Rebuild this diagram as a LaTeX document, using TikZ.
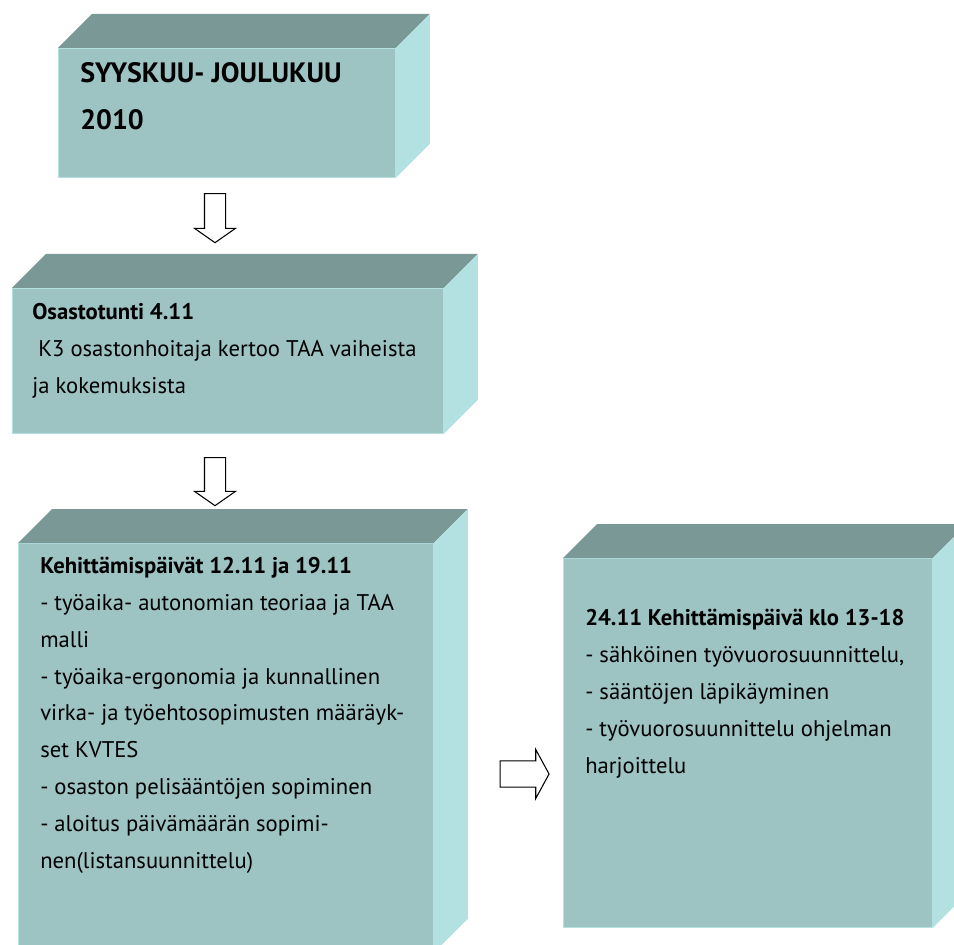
\documentclass[tikz,border=0pt]{standalone}
\usepackage{fontspec}
\setmainfont{PT Sans}
\usetikzlibrary{positioning, shapes.arrows}
\definecolor{frontc}{HTML}{9DC3C3}
\definecolor{topc}{HTML}{7A9896}
\definecolor{sidec}{HTML}{B3E0E1}
\newcommand\pxu{0.75pt}
\tikzset{face/.style = {draw = sidec, fill = frontc, line width = 0.6pt, anchor = north west, inner sep = 0pt}}
\tikzset{topface/.style = {fill = topc}}
\tikzset{sideface/.style = {fill = sidec}}
\tikzset{txt/.style = {anchor = base west, align = left, inner sep = 0pt, font = \fontsize{17}{27.6}\selectfont}}
\tikzset{blockarrow/.style = {single arrow, draw, fill = white, line width = 0.8pt, inner xsep = 0pt, single arrow head indent = 0pt}}

\begin{document}
\begin{tikzpicture}[x = \pxu, y = -\pxu]
	\useasboundingbox (0, 0) rectangle (954, 945);
	\clip (0, 0) rectangle (954, 945);

	% front faces
	\node[face, minimum width = 337*\pxu, minimum height = 129*\pxu] (f1) at (58, 48) {};
	\node[face, minimum width = 431*\pxu, minimum height = 145*\pxu] (f2) at (12, 288) {};
	\node[face, minimum width = 415*\pxu, minimum height = 409*\pxu] (f3) at (18, 543) {};
	\node[face, minimum width = 369*\pxu, minimum height = 369*\pxu] (f4) at (563, 558) {};

	% top and side faces
	\foreach \b in {f1, f2, f3, f4} {
		\fill[topface] (\b.north west) -- ++(34, -34) -- ([shift = {(34, -34)}]\b.north east) -- (\b.north east) -- cycle;
		\fill[sideface] (\b.north east) -- ++(34, -34) -- ([shift = {(34, -34)}]\b.south east) -- (\b.south east) -- cycle;
	}

	% texts, anchored at the last line
	\node[txt, font = \fontsize{21}{35.3}\selectfont\bfseries] (t1) at (80, 130) {SYYSKUU- JOULUKUU\\2010};
	\node[txt] (t2) at (32, 393) {\textbf{Osastotunti 4.11}\\ \ K3 osastonhoitaja kertoo TAA vaiheista\\ja kokemuksista};
	\node[txt] (t3) at (40, 868) {\textbf{Kehittämispäivät 12.11 ja 19.11}\\- työaika- autonomian teoriaa ja TAA\\malli\\- työaika-ergonomia ja kunnallinen\\virka- ja työehtosopimusten määräyk-\\set KVTES\\- osaston pelisääntöjen sopiminen\\- aloitus päivämäärän sopimi-\\nen(listansuunnittelu)};
	\node[txt] (t4) at (585, 773) {\textbf{24.11 Kehittämispäivä klo 13-18}\\- sähköinen työvuorosuunnittelu,\\- sääntöjen läpikäyminen\\- työvuorosuunnittelu ohjelman\\harjoittelu};

	% arrows
	\node[blockarrow, rotate = -90, inner ysep = 7.5pt, single arrow head extend = 7.5pt, minimum height = 49*\pxu, single arrow tip angle = 110] (d1) at (215, 214.5) {};
	\node[blockarrow, rotate = -90, inner ysep = 7.5pt, single arrow head extend = 7.5pt, minimum height = 48*\pxu, single arrow tip angle = 110] (d2) at (215, 478) {};
	\node[blockarrow, inner ysep = 9.4pt, single arrow head extend = 8.6pt, minimum height = 49*\pxu, single arrow tip angle = 123] (r1) at (521, 774) {};
\end{tikzpicture}
\end{document}
